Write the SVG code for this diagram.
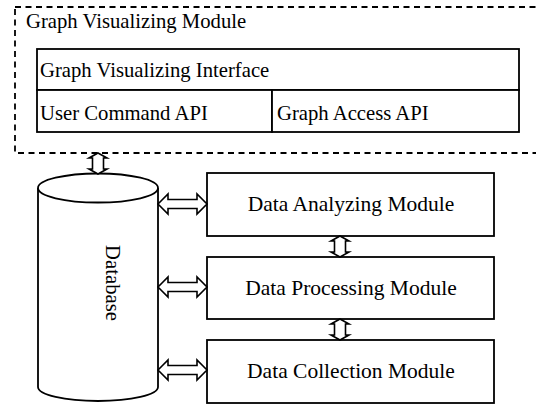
<svg xmlns="http://www.w3.org/2000/svg" width="536" height="404" viewBox="0 0 536 404">
<style>
  .t { font-family: "Liberation Serif", "Times New Roman", serif; font-size: 20.7px; fill: #000; }
  .m { font-size: 21.5px; }
  .box { fill: #fff; stroke: #000; stroke-width: 1.8; }
  .arr { fill: #fff; stroke: #000; stroke-width: 1.6; stroke-linejoin: miter; }
</style>
<rect x="0" y="0" width="536" height="404" fill="#fff"/>
<g id="graph-visualizing-module">
  <rect x="15" y="7" width="530" height="146" fill="none" stroke="#000" stroke-width="1.8" stroke-dasharray="6,4.5"/>
  <text class="t" x="26" y="28">Graph Visualizing Module</text>
</g>
<g id="graph-visualizing-interface">
  <rect class="box" x="37" y="49" width="482" height="41"/>
  <text class="t" x="40" y="77">Graph Visualizing Interface</text>
</g>
<g id="user-command-api">
  <rect class="box" x="37" y="90" width="235" height="42"/>
  <text class="t" x="40" y="120">User Command API</text>
</g>
<g id="graph-access-api">
  <rect class="box" x="272" y="90" width="247" height="42"/>
  <text class="t" x="277" y="120">Graph Access API</text>
</g>
<g id="database">
  <path class="box" d="M38,188 L38,387 A60,14 0 0 0 158,387 L158,188"/>
  <ellipse class="box" cx="98" cy="188" rx="60" ry="14.5"/>
  <text class="t" transform="translate(106,283) rotate(90)" text-anchor="middle">Database</text>
</g>
<g id="data-analyzing-module">
  <rect class="box" x="207" y="173" width="287" height="63"/>
  <text class="t m" x="351" y="211" text-anchor="middle">Data Analyzing Module</text>
</g>
<g id="data-processing-module">
  <rect class="box" x="207" y="257" width="287" height="62"/>
  <text class="t m" x="351" y="295" text-anchor="middle">Data Processing Module</text>
</g>
<g id="data-collection-module">
  <rect class="box" x="207" y="340" width="287" height="63"/>
  <text class="t m" x="351" y="378" text-anchor="middle">Data Collection Module</text>
</g>
<g id="connectors">
  <polygon class="arr" points="158,204 168,194 168,199.5 197,199.5 197,194 207,204 197,214 197,208.5 168,208.5 168,214"/>
  <polygon class="arr" points="158,287 168,277 168,282.5 197,282.5 197,277 207,287 197,297 197,291.5 168,291.5 168,297"/>
  <polygon class="arr" points="158,370 168,360 168,365.5 197,365.5 197,360 207,370 197,380 197,374.5 168,374.5 168,380"/>
  <polygon class="arr" points="98,153 107,158 103.5,158 103.5,169 107,169 98,174 89,169 92.5,169 92.5,158 89,158"/>
  <polygon class="arr" points="340,236 349,241 345.5,241 345.5,252 349,252 340,257 331,252 334.5,252 334.5,241 331,241"/>
  <polygon class="arr" points="340,319 349,324 345.5,324 345.5,335 349,335 340,340 331,335 334.5,335 334.5,324 331,324"/>
</g>
</svg>
